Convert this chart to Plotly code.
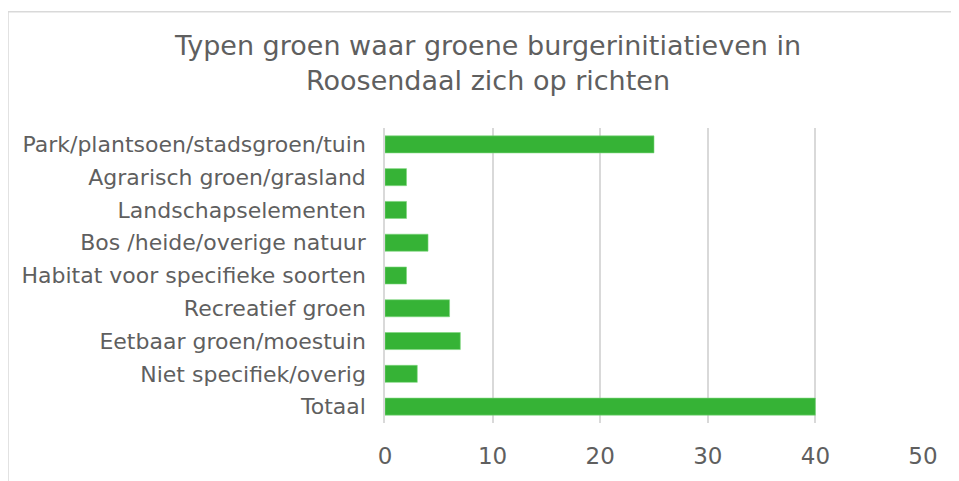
import plotly.graph_objects as go

categories = [
    "Park/plantsoen/stadsgroen/tuin",
    "Agrarisch groen/grasland",
    "Landschapselementen",
    "Bos /heide/overige natuur",
    "Habitat voor specifieke soorten",
    "Recreatief groen",
    "Eetbaar groen/moestuin",
    "Niet specifiek/overig",
    "Totaal",
]
values = [25, 2, 2, 4, 2, 6, 7, 3, 40]
x_ticks = [0, 10, 20, 30, 40, 50]

# page body has an 8px margin, so the figure is drawn offset by (8, 8)
W, H = 951, 473
L, R, T, B = 377, 36, 120, 56
pw, ph = W - L - R, H - T - B

fig = go.Figure(go.Bar(
    y=categories, x=values, orientation="h",
    marker=dict(color="#36B336", line=dict(color="#7ED67E", width=0.6)),
    width=0.52,
))

fig.update_layout(
    width=W, height=H,
    margin=dict(l=L, r=R, t=T, b=B),
    paper_bgcolor="white", plot_bgcolor="white",
    font=dict(family="DejaVu Sans, Verdana, sans-serif", color="#595959"),
    title=dict(
        text="Typen groen waar groene burgerinitiatieven in<br>Roosendaal zich op richten",
        x=480 / W, xanchor="center", xref="container",
        y=1 - 47 / H, yanchor="middle", yref="container",
        font=dict(size=27, color="#5f5f5f"),
    ),
    showlegend=False,
)
fig.update_xaxes(
    range=[0, 50], tickvals=x_ticks, showgrid=True, gridcolor="#D9D9D9", gridwidth=1.5,
    zeroline=False, showline=False, tickfont=dict(size=23, color="#5f5f5f"),
    ticklabelstandoff=17, fixedrange=True,
)
fig.update_yaxes(
    categoryorder="array", categoryarray=categories[::-1],
    showline=True, linecolor="#D9D9D9", linewidth=1.5, showgrid=False,
    tickfont=dict(size=22, color="#5f5f5f"), ticklabelstandoff=13,
)

# chart-area border (top and left visible)
fig.add_shape(type="rect", xref="paper", yref="paper",
              x0=(0 - L) / pw, x1=(W + 20 - L) / pw,
              y0=-(B + 20) / ph, y1=1 + (T - 3) / ph,
              line=dict(color="#D9D9D9", width=1.5), fillcolor="rgba(0,0,0,0)", layer="below")

fig.write_html("out.html")
